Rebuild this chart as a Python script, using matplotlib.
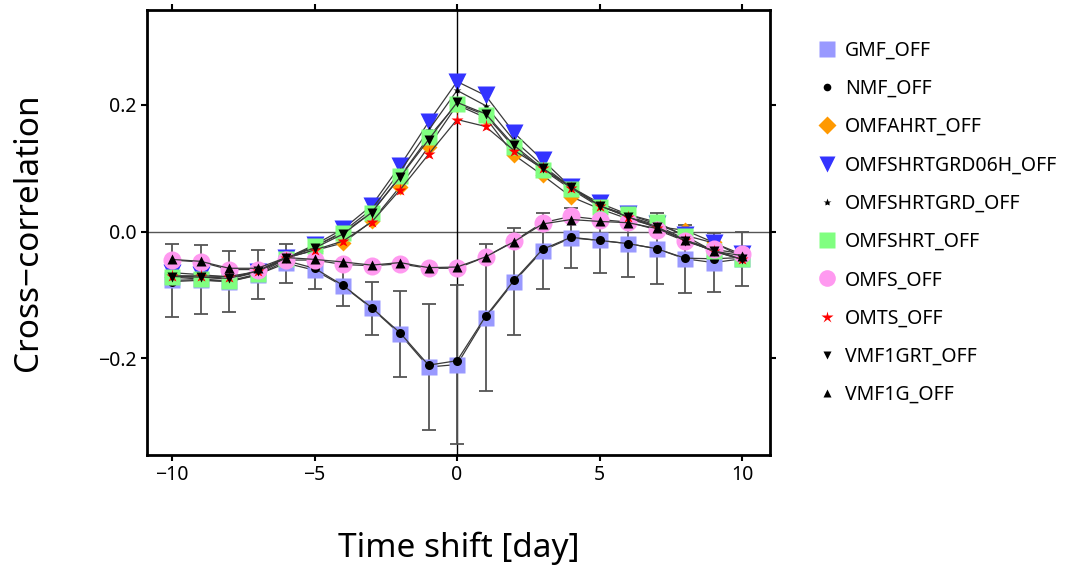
import numpy as np
from matplotlib import pyplot as plt
from matplotlib.lines import Line2D

plt.rcParams['font.family'] = ['Noto Sans', 'DejaVu Sans']

shift = list(range(-10, 11))

gmf = [-0.077, -0.076, -0.079, -0.068, -0.050, -0.061, -0.086, -0.121, -0.162, -0.214, -0.210,
       -0.136, -0.079, -0.030, -0.010, -0.014, -0.019, -0.027, -0.043, -0.049, -0.043]
gmf_err = [0.058, 0.054, 0.048, 0.039, 0.031, 0.029, 0.031, 0.042, 0.068, 0.100, 0.125,
           0.116, 0.085, 0.060, 0.047, 0.051, 0.053, 0.056, 0.054, 0.047, 0.043]
nmf = [-0.079, -0.077, -0.079, -0.069, -0.046, -0.058, -0.085, -0.120, -0.160, -0.211, -0.204,
       -0.134, -0.077, -0.028, -0.009, -0.014, -0.019, -0.027, -0.042, -0.043, -0.041]
omfahrt = [-0.071, -0.072, -0.075, -0.064, -0.041, -0.030, -0.018, 0.016, 0.071, 0.134, 0.200,
           0.180, 0.121, 0.089, 0.055, 0.036, 0.020, 0.008, 0.002, -0.017, -0.040]
omfshrtgrd06h = [-0.065, -0.068, -0.072, -0.064, -0.042, -0.021, 0.004, 0.041, 0.104, 0.173, 0.237,
                 0.215, 0.156, 0.113, 0.070, 0.045, 0.027, 0.012, -0.006, -0.018, -0.036]
omfshrtgrd = [-0.070, -0.071, -0.074, -0.063, -0.041, -0.024, 0.000, 0.035, 0.095, 0.160, 0.223,
              0.199, 0.144, 0.104, 0.070, 0.042, 0.024, 0.010, -0.012, -0.030, -0.043]
omfshrt = [-0.072, -0.075, -0.078, -0.067, -0.043, -0.023, -0.002, 0.030, 0.087, 0.149, 0.202,
           0.184, 0.133, 0.098, 0.067, 0.039, 0.027, 0.015, -0.007, -0.031, -0.044]
omfs = [-0.045, -0.048, -0.060, -0.060, -0.045, -0.045, -0.052, -0.054, -0.051, -0.058, -0.058,
        -0.040, -0.015, 0.014, 0.024, 0.019, 0.015, 0.003, -0.015, -0.028, -0.035]
omts = [-0.070, -0.070, -0.071, -0.063, -0.042, -0.029, -0.015, 0.015, 0.066, 0.122, 0.177,
        0.166, 0.128, 0.100, 0.069, 0.041, 0.023, 0.006, -0.013, -0.031, -0.044]
vmf1grt = [-0.071, -0.072, -0.074, -0.062, -0.041, -0.026, -0.004, 0.030, 0.086, 0.145, 0.204,
           0.186, 0.136, 0.100, 0.071, 0.041, 0.023, 0.008, -0.015, -0.030, -0.044]
vmf1g = [-0.044, -0.047, -0.058, -0.058, -0.041, -0.044, -0.048, -0.053, -0.049, -0.057, -0.056,
         -0.040, -0.016, 0.012, 0.019, 0.016, 0.014, 0.005, -0.013, -0.031, -0.038]

# name, values, marker, colour, size in plot, size in legend
series = [
    ('GMF_OFF', gmf, 's', '#9999ff', 11.5, 11),
    ('NMF_OFF', nmf, 'o', 'black', 6.5, 5.5),
    ('OMFAHRT_OFF', omfahrt, 'D', '#ff9900', 8.5, 9),
    ('OMFSHRTGRD06H_OFF', omfshrtgrd06h, 'v', '#3333ff', 13, 12),
    ('OMFSHRTGRD_OFF', omfshrtgrd, '*', 'black', 6, 6),
    ('OMFSHRT_OFF', omfshrt, 's', '#80ff80', 11.5, 11),
    ('OMFS_OFF', omfs, 'o', '#ff99f0', 13, 12),
    ('OMTS_OFF', omts, '*', 'red', 9.5, 9),
    ('VMF1GRT_OFF', vmf1grt, 'v', 'black', 7, 6),
    ('VMF1G_OFF', vmf1g, '^', 'black', 7, 6),
]

fig = plt.figure(figsize=(10.75, 5.72), dpi=100)
ax = fig.add_axes([0.1367, 0.2045, 0.5796, 0.778])

ax.axhline(0, color='#555555', lw=1, zorder=1)
ax.axvline(0, color='black', lw=1, zorder=1)

ax.errorbar(shift, gmf, yerr=gmf_err, fmt='none', ecolor='#555555', elinewidth=1.3,
            capsize=5, capthick=1.3, zorder=2)

handles = []
for i, (name, vals, mk, col, ms, lms) in enumerate(series):
    ax.plot(shift, vals, color='#3a3a3a', lw=0.9, zorder=3 + i * 0.1)
    ax.plot(shift, vals, ls='none', marker=mk, ms=ms, mfc=col, mec='none', zorder=3 + i * 0.1)
    handles.append(Line2D([], [], ls='none', marker=mk, ms=lms, mfc=col, mec='none', label=name))

ax.set_xlim(-10.88, 10.98)
ax.set_ylim(-0.353, 0.35)
ax.set_xticks([-10, -5, 0, 5, 10])
ax.set_xticklabels(['\u221210', '\u22125', '0', '5', '10'])
ax.set_yticks([-0.2, 0.0, 0.2])
ax.set_yticklabels(['\u22120.2', '0.0', '0.2'])
ax.tick_params(direction='out', length=4, width=1.5, labelsize=14,
               top=True, right=True, labeltop=False, labelright=False)
for sp in ax.spines.values():
    sp.set_linewidth(2)

ax.set_xlabel('Time shift [day]', fontsize=24, labelpad=33)
ax.set_ylabel('Cross\u2212correlation', fontsize=24, labelpad=38)

fig.legend(handles=handles, loc='upper left', bbox_to_anchor=(0.760, 0.929),
           frameon=False, fontsize=14, handlelength=1.0, handletextpad=0.44,
           labelspacing=0.94, borderpad=0, borderaxespad=0)

fig.savefig('out.png', dpi=100)
